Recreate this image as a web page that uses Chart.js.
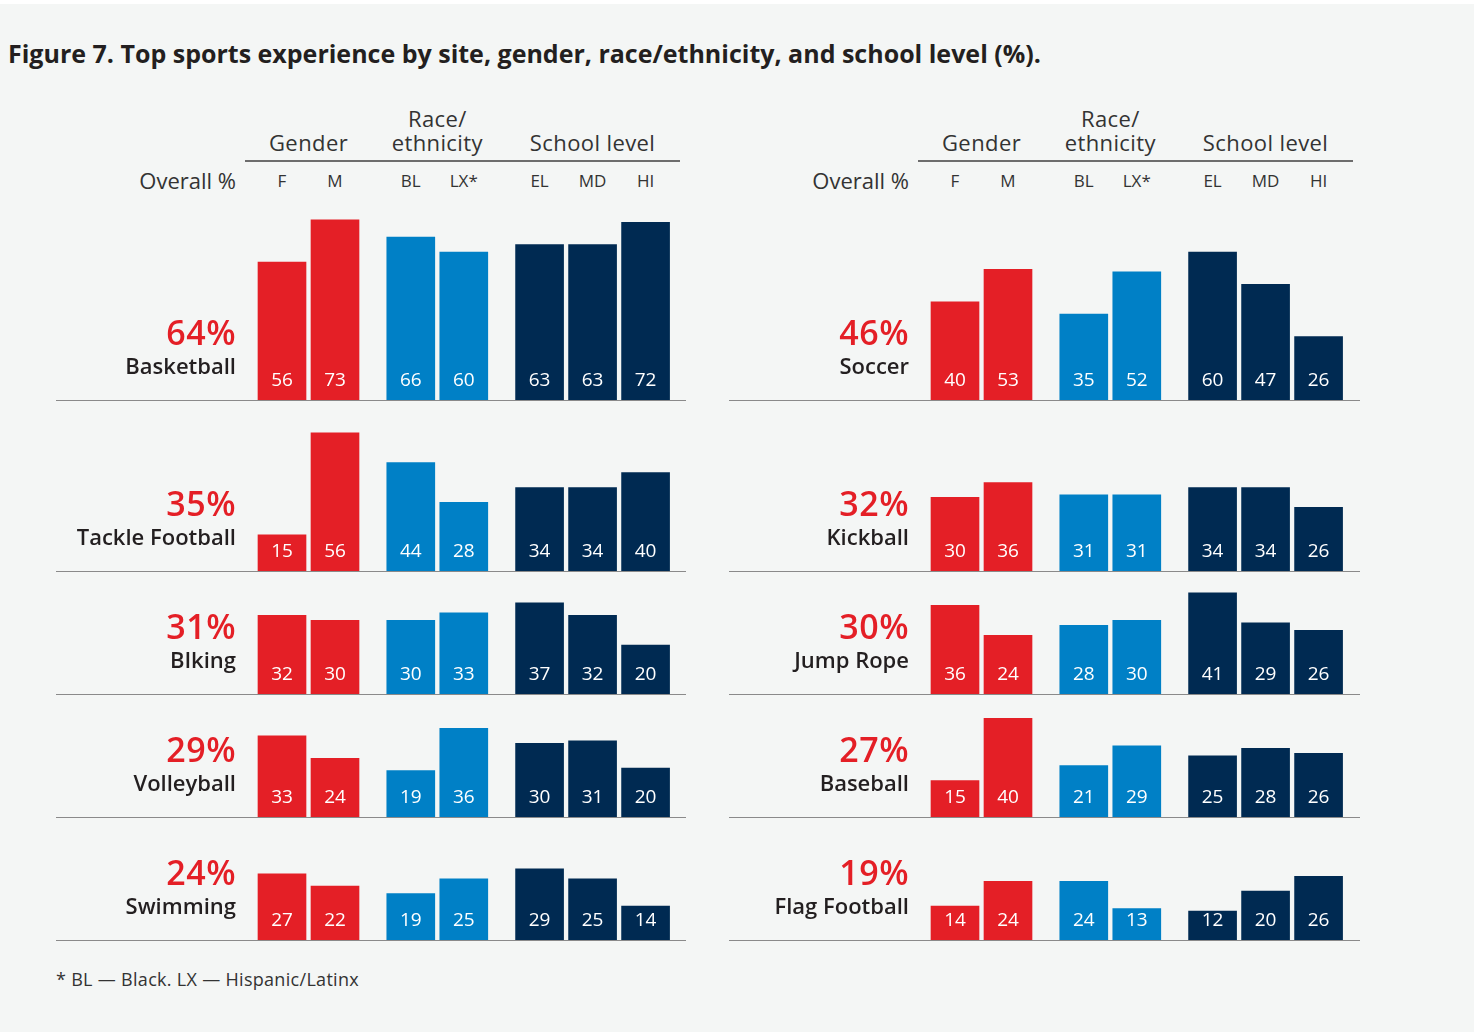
<!DOCTYPE html>
<html>
<head>
<meta charset="utf-8">
<script src="https://cdn.jsdelivr.net/npm/chart.js@4.4.1/dist/chart.umd.min.js"></script>
<style>
  html, body { margin: 0; padding: 0; background: #fff; }
  #page {
    position: absolute; left: 0; top: 4px; width: 1474px; height: 1028px;
    background: #f4f6f5; overflow: hidden;
    font-family: "Open Sans", "Noto Sans", sans-serif; color: #231f20;
  }
  .txt { position: absolute; white-space: nowrap; line-height: 1; }
  canvas { position: absolute; }
</style>
</head>
<body>
<div id="page"></div>
<script>
// column labels and groups
const groupNames = ["Gender", "Race/\nethnicity", "School level"];
const barLabels = ["F", "M", "BL", "LX*", "EL", "MD", "HI"];
const barGroup = [0, 0, 1, 1, 2, 2, 2];

// sports, overall share and breakdowns (% of students)
const sports = ["Basketball", "Soccer", "Tackle Football", "Kickball", "BIking",
  "Jump Rope", "Volleyball", "Baseball", "Swimming", "Flag Football"];
const overall = [64, 46, 35, 32, 31, 30, 29, 27, 24, 19];
const basketball = [56, 73, 66, 60, 63, 63, 72];
const soccer = [40, 53, 35, 52, 60, 47, 26];
const tackleFootball = [15, 56, 44, 28, 34, 34, 40];
const kickball = [30, 36, 31, 31, 34, 34, 26];
const biking = [32, 30, 30, 33, 37, 32, 20];
const jumpRope = [36, 24, 28, 30, 41, 29, 26];
const volleyball = [33, 24, 19, 36, 30, 31, 20];
const baseball = [15, 40, 21, 29, 25, 28, 26];
const swimming = [27, 22, 19, 25, 29, 25, 14];
const flagFootball = [14, 24, 24, 13, 12, 20, 26];
const series = [basketball, soccer, tackleFootball, kickball, biking,
  jumpRope, volleyball, baseball, swimming, flagFootball];

const groupColors = ["#e41f26", "#0080c6", "#002a52"];

// layout
const page = document.getElementById("page");
const OFF = 4;                       // page div starts 4px down
const colLeft = [56, 729];
const colWidth = [630, 631];
const rowBase = [400, 571, 694, 817, 940];
const rowHeight = [200, 160, 116, 116, 116];
const pxPerUnit = 2.47;              // same value scale for every panel
const slotPx = 53;                   // distance between neighbouring bars
const groupGap = 2.43;               // group pitch in slots
const firstBarPx = 226;              // first bar centre from panel left

function label(text, x, y, opts) {
  const d = document.createElement("div");
  d.className = "txt";
  d.textContent = text;
  const o = opts || {};
  d.style.fontSize = (o.size || 18) + "px";
  d.style.fontWeight = o.weight || 400;
  d.style.color = o.color || "#231f20";
  d.style.top = (y - OFF) + "px";
  const align = o.align || "left";
  let tx = "0";
  if (align === "center") tx = "-50%";
  if (align === "right") tx = "-100%";
  d.style.left = x + "px";
  d.style.transform = "translate(" + tx + ", -50%)";
  if (o.ls) d.style.letterSpacing = o.ls + "px";
  page.appendChild(d);
  return d;
}

label("Figure 7. Top sports experience by site, gender, race/ethnicity, and school level (%).",
  8, 53, { size: 25, weight: 700, color: "#231f20" });
label("* BL \u2014 Black. LX \u2014 Hispanic/Latinx", 56, 979, { size: 18, color: "#333", ls: 0.3 });

function slotOf(i) {
  const g = barGroup[i];
  const first = barGroup.indexOf(g);
  return g * groupGap + (i - first);
}

// column headers
colLeft.forEach((left) => {
  const cx = (i) => left + firstBarPx + slotOf(i) * slotPx;
  barLabels.forEach((b, i) => label(b, cx(i), 180, { size: 17, align: "center", color: "#333" }));
  label("Overall %", left + 180, 180, { size: 22, align: "right", color: "#333" });
  groupNames.forEach((g, gi) => {
    const idx = barGroup.map((v, i) => v === gi ? i : -1).filter((i) => i >= 0);
    const mid = (cx(idx[0]) + cx(idx[idx.length - 1])) / 2;
    const lines = g.split("\n");
    lines.forEach((ln, k) => {
      label(ln, mid, 142 - (lines.length - 1 - k) * 24, { size: 22, align: "center", color: "#333", ls: 0.4 });
    });
  });
  const rule = document.createElement("div");
  rule.style.cssText = "position:absolute;height:2px;background:#6d6d6d;";
  rule.style.left = (left + 189) + "px";
  rule.style.width = "435px";
  rule.style.top = (160 - OFF) + "px";
  page.appendChild(rule);
});

// value labels inside the bars and the baseline rule
const panelPlugin = {
  id: "panelDecor",
  afterDatasetsDraw(chart) {
    const ctx = chart.ctx;
    const area = chart.chartArea;
    ctx.save();
    ctx.fillStyle = "#8a8a8a";
    ctx.fillRect(area.left, area.bottom - 1, area.right - area.left, 2);
    ctx.fillStyle = "#ffffff";
    ctx.font = "400 19px 'Open Sans', 'Noto Sans', sans-serif";
    ctx.textAlign = "center";
    ctx.textBaseline = "middle";
    const meta = chart.getDatasetMeta(0);
    meta.data.forEach((bar, i) => {
      const v = chart.data.datasets[0].data[i].y;
      ctx.fillText(String(v), bar.x, area.bottom - 20);
    });
    ctx.restore();
  }
};

sports.forEach((name, p) => {
  const col = p % 2;
  const row = Math.floor(p / 2);
  const left = colLeft[col];
  const width = colWidth[col];
  const base = rowBase[row];
  const h = rowHeight[row];

  const cv = document.createElement("canvas");
  cv.width = width;
  cv.height = h + 1;
  cv.style.left = left + "px";
  cv.style.top = (base - h - OFF) + "px";
  cv.style.width = width + "px";
  cv.style.height = (h + 1) + "px";
  page.appendChild(cv);

  const values = series[p];
  const xMin = -firstBarPx / slotPx;
  new Chart(cv, {
    type: "bar",
    data: {
      datasets: [{
        data: values.map((v, i) => ({ x: slotOf(i), y: v })),
        backgroundColor: values.map((v, i) => groupColors[barGroup[i]]),
        barThickness: 48,
        borderWidth: 0
      }]
    },
    options: {
      responsive: false,
      animation: false,
      maintainAspectRatio: false,
      layout: { padding: { top: 0, bottom: 0, left: 0, right: 0 } },
      plugins: { legend: { display: false }, tooltip: { enabled: false } },
      scales: {
        x: { type: "linear", display: false, offset: false, min: xMin, max: xMin + width / slotPx },
        y: { display: false, min: 0, max: h / pxPerUnit }
      }
    },
    plugins: [panelPlugin]
  });

  label(overall[p] + "%", left + 180, base - 68, { size: 34, weight: 600, align: "right", color: "#e41f26", ls: 0.5 });
  label(name, left + 180, base - 35, { size: 22, weight: 600, align: "right", color: "#231f20" });
});
</script>
</body>
</html>
